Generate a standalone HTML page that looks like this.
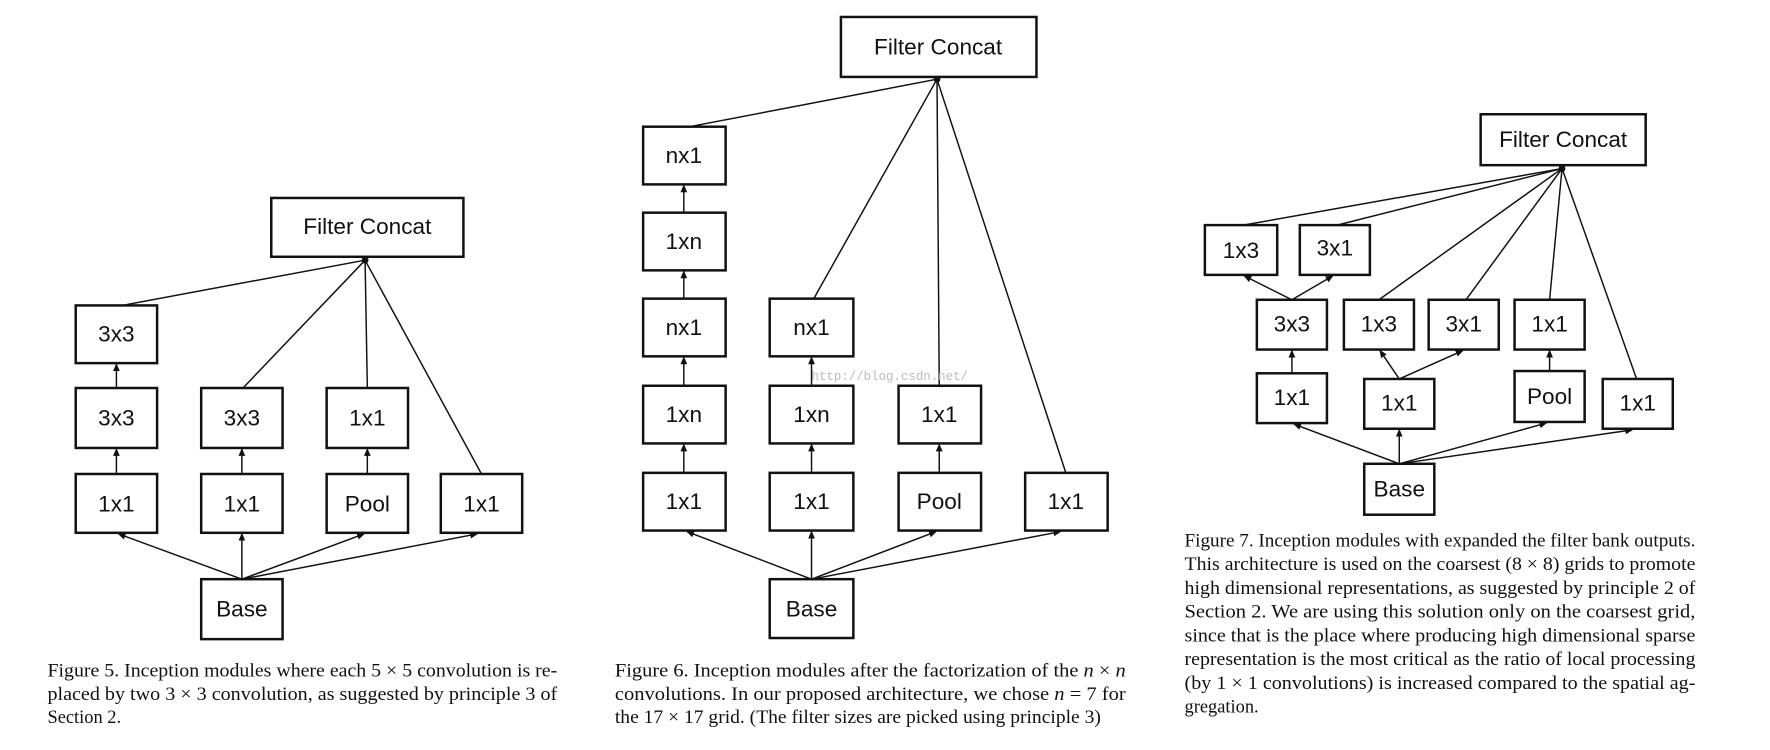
<!DOCTYPE html>
<html><head><meta charset="utf-8"><style>
html,body{margin:0;padding:0;background:#fff;width:1770px;height:750px;overflow:hidden}
svg{display:block}
.b{fill:#fff;stroke:#111;stroke-width:2.2}
.l{stroke:#111;stroke-width:1.3;fill:none}
.a{stroke:#111;stroke-width:1.3;fill:none;marker-end:url(#ar)}
.t{font-family:"Liberation Sans",sans-serif;font-size:20px;fill:#111;text-anchor:middle}
.c{font-family:"Liberation Serif",serif;font-size:16.3px;fill:#111}
</style></head><body>
<svg width="1770" height="750" viewBox="0 0 1566 663" preserveAspectRatio="none">
<defs><marker id="ar" markerWidth="8" markerHeight="8" refX="6" refY="3" orient="auto" markerUnits="userSpaceOnUse"><path d="M0,0 L7,3 L0,6 z" fill="#111"/></marker></defs>

<!-- Figure 5 -->
<line x1="323" y1="230" x2="108" y2="270" class="l"/>
<line x1="323" y1="230" x2="215" y2="343" class="l"/>
<line x1="323" y1="230" x2="325" y2="343" class="l"/>
<line x1="323" y1="230" x2="426" y2="419" class="l"/>
<circle cx="323" cy="230" r="3" fill="#111"/>
<line x1="103" y1="343" x2="103" y2="322" class="a"/>
<line x1="103" y1="419" x2="103" y2="397" class="a"/>
<line x1="214" y1="419" x2="214" y2="397" class="a"/>
<line x1="325" y1="419" x2="325" y2="397" class="a"/>
<line x1="214" y1="512" x2="105" y2="472" class="a"/>
<line x1="214" y1="512" x2="214" y2="472" class="a"/>
<line x1="214" y1="512" x2="322" y2="472" class="a"/>
<line x1="214" y1="512" x2="422" y2="472" class="a"/>
<rect class="b" x="240" y="175" width="170" height="52"/><text class="t" x="325" y="207">Filter Concat</text>
<rect class="b" x="67" y="270" width="72" height="51"/><text class="t" x="103" y="302">3x3</text>
<rect class="b" x="67" y="343" width="72" height="53"/><text class="t" x="103" y="376">3x3</text>
<rect class="b" x="178" y="343" width="72" height="53"/><text class="t" x="214" y="376">3x3</text>
<rect class="b" x="289" y="343" width="72" height="53"/><text class="t" x="325" y="376">1x1</text>
<rect class="b" x="67" y="419" width="72" height="52"/><text class="t" x="103" y="452">1x1</text>
<rect class="b" x="178" y="419" width="72" height="52"/><text class="t" x="214" y="452">1x1</text>
<rect class="b" x="289" y="419" width="72" height="52"/><text class="t" x="325" y="452">Pool</text>
<rect class="b" x="390" y="419" width="72" height="52"/><text class="t" x="426" y="452">1x1</text>
<rect class="b" x="178" y="512" width="72" height="53"/><text class="t" x="214" y="545">Base</text>
<text class="c" x="42" y="598" textLength="451" lengthAdjust="spacingAndGlyphs">Figure 5. Inception modules where each 5 × 5 convolution is re-</text>
<text class="c" x="42" y="619" textLength="451" lengthAdjust="spacingAndGlyphs">placed by two 3 × 3 convolution, as suggested by principle 3 of</text>
<text class="c" x="42" y="639">Section 2.</text>

<!-- Figure 6 -->
<line x1="829" y1="70" x2="610" y2="112" class="l"/>
<line x1="829" y1="70" x2="720" y2="264" class="l"/>
<line x1="829" y1="70" x2="831" y2="341" class="l"/>
<line x1="829" y1="70" x2="943" y2="418" class="l"/>
<circle cx="829" cy="70" r="3" fill="#111"/>
<line x1="605" y1="188" x2="605" y2="164" class="a"/>
<line x1="605" y1="264" x2="605" y2="240" class="a"/>
<line x1="605" y1="341" x2="605" y2="316" class="a"/>
<line x1="605" y1="418" x2="605" y2="393" class="a"/>
<line x1="718" y1="341" x2="718" y2="316" class="a"/>
<line x1="718" y1="418" x2="718" y2="393" class="a"/>
<line x1="831" y1="418" x2="831" y2="393" class="a"/>
<line x1="718" y1="512" x2="608" y2="470" class="a"/>
<line x1="718" y1="512" x2="718" y2="470" class="a"/>
<line x1="718" y1="512" x2="828" y2="470" class="a"/>
<line x1="718" y1="512" x2="938" y2="470" class="a"/>
<rect class="b" x="744" y="15" width="173" height="53"/><text class="t" x="830" y="48">Filter Concat</text>
<rect class="b" x="569" y="112" width="73" height="51"/><text class="t" x="605" y="144">nx1</text>
<rect class="b" x="569" y="188" width="73" height="51"/><text class="t" x="605" y="220">1xn</text>
<rect class="b" x="569" y="264" width="73" height="51"/><text class="t" x="605" y="296">nx1</text>
<rect class="b" x="681" y="264" width="74" height="51"/><text class="t" x="718" y="296">nx1</text>
<rect class="b" x="569" y="341" width="73" height="51"/><text class="t" x="605" y="373">1xn</text>
<rect class="b" x="681" y="341" width="74" height="51"/><text class="t" x="718" y="373">1xn</text>
<rect class="b" x="795" y="341" width="73" height="51"/><text class="t" x="831" y="373">1x1</text>
<rect class="b" x="569" y="418" width="73" height="51"/><text class="t" x="605" y="450">1x1</text>
<rect class="b" x="681" y="418" width="74" height="51"/><text class="t" x="718" y="450">1x1</text>
<rect class="b" x="795" y="418" width="73" height="51"/><text class="t" x="831" y="450">Pool</text>
<rect class="b" x="907" y="418" width="73" height="51"/><text class="t" x="943" y="450">1x1</text>
<rect class="b" x="681" y="512" width="74" height="52"/><text class="t" x="718" y="545">Base</text>
<text x="718" y="336" font-family="Liberation Mono,monospace" font-size="11" fill="#bbb">http://blog.csdn.net/</text>
<text class="c" x="544" y="598" textLength="452" lengthAdjust="spacingAndGlyphs">Figure 6. Inception modules after the factorization of the <tspan font-style="italic">n</tspan> × <tspan font-style="italic">n</tspan></text>
<text class="c" x="544" y="619" textLength="452" lengthAdjust="spacingAndGlyphs">convolutions.  In our proposed architecture, we chose <tspan font-style="italic">n</tspan> = 7 for</text>
<text class="c" x="544" y="639" textLength="430" lengthAdjust="spacingAndGlyphs">the 17 × 17 grid. (The filter sizes are picked using principle 3)</text>

<!-- Figure 7 -->
<line x1="1382" y1="149" x2="1100" y2="199" class="l"/>
<line x1="1382" y1="149" x2="1183" y2="199" class="l"/>
<line x1="1382" y1="149" x2="1220" y2="265" class="l"/>
<line x1="1382" y1="149" x2="1297" y2="265" class="l"/>
<line x1="1382" y1="149" x2="1371" y2="265" class="l"/>
<line x1="1382" y1="149" x2="1448" y2="335" class="l"/>
<circle cx="1382" cy="149" r="3" fill="#111"/>
<line x1="1143" y1="265" x2="1101" y2="244" class="a"/>
<line x1="1143" y1="265" x2="1179" y2="244" class="a"/>
<line x1="1143" y1="330" x2="1143" y2="310" class="a"/>
<line x1="1238" y1="335" x2="1221" y2="310" class="a"/>
<line x1="1238" y1="335" x2="1294" y2="310" class="a"/>
<line x1="1371" y1="328" x2="1371" y2="310" class="a"/>
<line x1="1238" y1="410" x2="1145" y2="375" class="a"/>
<line x1="1238" y1="410" x2="1238" y2="380" class="a"/>
<line x1="1238" y1="410" x2="1368" y2="374" class="a"/>
<line x1="1238" y1="410" x2="1444" y2="380" class="a"/>
<rect class="b" x="1310" y="101" width="146" height="45"/><text class="t" x="1383" y="130">Filter Concat</text>
<rect class="b" x="1066" y="199" width="64" height="44"/><text class="t" x="1098" y="228">1x3</text>
<rect class="b" x="1150" y="199" width="62" height="44"/><text class="t" x="1181" y="226">3x1</text>
<rect class="b" x="1112" y="265" width="62" height="44"/><text class="t" x="1143" y="293">3x3</text>
<rect class="b" x="1189" y="265" width="62" height="44"/><text class="t" x="1220" y="293">1x3</text>
<rect class="b" x="1264" y="265" width="62" height="44"/><text class="t" x="1295" y="293">3x1</text>
<rect class="b" x="1340" y="265" width="62" height="44"/><text class="t" x="1371" y="293">1x1</text>
<rect class="b" x="1112" y="330" width="62" height="44"/><text class="t" x="1143" y="358">1x1</text>
<rect class="b" x="1207" y="335" width="62" height="44"/><text class="t" x="1238" y="363">1x1</text>
<rect class="b" x="1340" y="328" width="62" height="45"/><text class="t" x="1371" y="357">Pool</text>
<rect class="b" x="1418" y="335" width="62" height="44"/><text class="t" x="1449" y="363">1x1</text>
<rect class="b" x="1207" y="410" width="62" height="45"/><text class="t" x="1238" y="439">Base</text>
<text class="c" x="1048" y="483" textLength="452" lengthAdjust="spacingAndGlyphs">Figure 7. Inception modules with expanded the filter bank outputs.</text>
<text class="c" x="1048" y="504" textLength="452" lengthAdjust="spacingAndGlyphs">This architecture is used on the coarsest (8 × 8) grids to promote</text>
<text class="c" x="1048" y="525" textLength="452" lengthAdjust="spacingAndGlyphs">high dimensional representations, as suggested by principle 2 of</text>
<text class="c" x="1048" y="546" textLength="452" lengthAdjust="spacingAndGlyphs">Section 2.  We are using this solution only on the coarsest grid,</text>
<text class="c" x="1048" y="567" textLength="452" lengthAdjust="spacingAndGlyphs">since that is the place where producing high dimensional sparse</text>
<text class="c" x="1048" y="588" textLength="452" lengthAdjust="spacingAndGlyphs">representation is the most critical as the ratio of local processing</text>
<text class="c" x="1048" y="609" textLength="452" lengthAdjust="spacingAndGlyphs">(by 1 × 1 convolutions) is increased compared to the spatial ag-</text>
<text class="c" x="1048" y="630">gregation.</text>
</svg>
</body></html>
